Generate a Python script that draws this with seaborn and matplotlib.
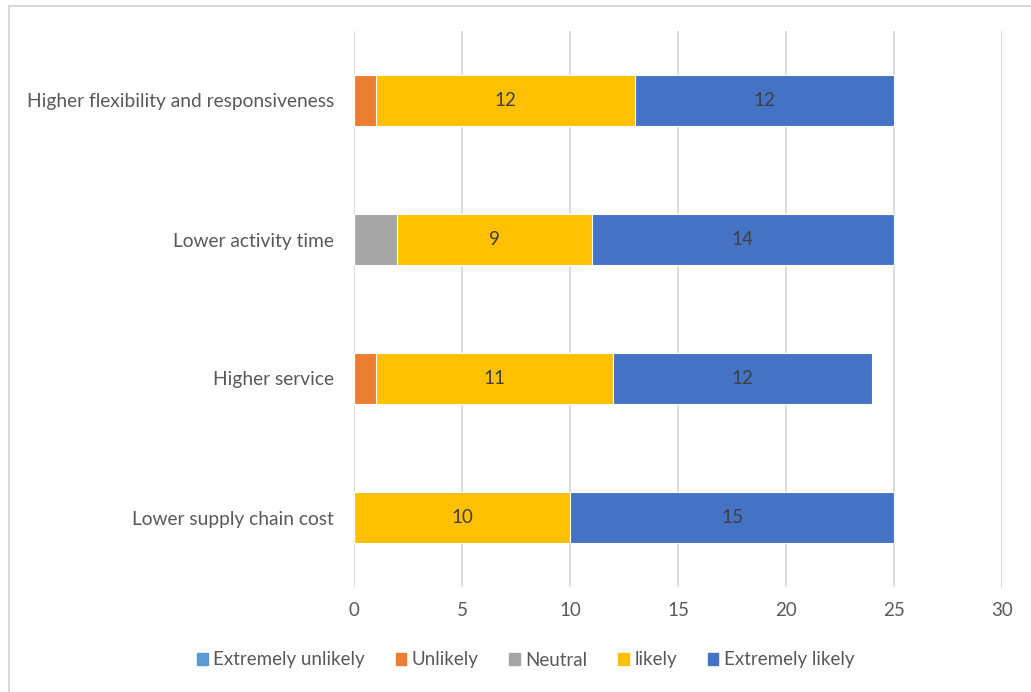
import matplotlib
matplotlib.use("Agg")
import matplotlib.pyplot as plt
import matplotlib.patches as mpatches
import numpy as np
import pandas as pd
import seaborn as sns

categories = [
    "Higher flexibility and responsiveness",
    "Lower activity time",
    "Higher service",
    "Lower supply chain cost",
]
series_names = ["Extremely unlikely", "Unlikely", "Neutral", "likely", "Extremely likely"]
extremely_unlikely = [0, 0, 0, 0]
unlikely = [1, 0, 1, 0]
neutral = [0, 2, 0, 0]
likely = [12, 9, 11, 10]
extremely_likely = [12, 14, 12, 15]
labelled_series = ["likely", "Extremely likely"]
x_ticks = [0, 5, 10, 15, 20, 25, 30]

colors = ["#5B9BD5", "#ED7D31", "#A5A5A5", "#FFC000", "#4472C4"]
text_grey = "#595959"
label_grey = "#404040"

sns.set_theme(style="white")
plt.rcParams["font.family"] = ["Lato", "DejaVu Sans"]

values = pd.DataFrame(
    {
        "Extremely unlikely": extremely_unlikely,
        "Unlikely": unlikely,
        "Neutral": neutral,
        "likely": likely,
        "Extremely likely": extremely_likely,
    },
    index=categories,
)
cumulative = values.cumsum(axis=1)
starts = cumulative - values

fig = plt.figure(figsize=(10.31, 6.92), dpi=100)
ax = fig.add_axes([354 / 1031, 1 - 587 / 692, (1002 - 354) / 1031, (587 - 31) / 692])

# stacked bars: draw cumulative totals from the outermost series inwards
for name, color in reversed(list(zip(series_names, colors))):
    df = pd.DataFrame({"category": categories, "value": cumulative[name].values})
    sns.barplot(
        data=df, x="value", y="category", orient="h", color=color,
        width=0.36, edgecolor="white", linewidth=0.8, ax=ax, zorder=3,
        saturation=1,
    )

for name in labelled_series:
    for i, cat in enumerate(categories):
        v = values.loc[cat, name]
        if v > 0:
            ax.text(starts.loc[cat, name] + v / 2, i, f"{v}", ha="center", va="center",
                    fontsize=13.5, color=label_grey, zorder=5)

ax.set_xlim(0, 30)
ax.set_ylim(3.5, -0.5)
ax.set_xticks(x_ticks)
ax.set_xlabel("")
ax.set_ylabel("")
ax.grid(axis="x", color="#d9d9d9", linewidth=1.3, zorder=0)
ax.grid(axis="y", visible=False)
for s in ax.spines.values():
    s.set_visible(False)
ax.tick_params(axis="x", length=0, pad=11, labelsize=13.5, labelcolor=text_grey)
ax.tick_params(axis="y", length=0, pad=14.5, labelsize=13.8, labelcolor=text_grey)

handles = [mpatches.Patch(color=c, label=n) for n, c in zip(series_names, colors)]
fig.legend(
    handles=handles, loc="center", bbox_to_anchor=(0.51, 1 - 660 / 692), ncol=5,
    frameon=False, fontsize=13.5, labelcolor=text_grey, handlelength=0.55,
    handleheight=0.55, handletextpad=0.3, columnspacing=1.65,
)

# outer chart frame
fig.patches.append(mpatches.Rectangle(
    (8.5 / 1031, 0 - 0.05), 1.2, 1 - 6 / 692 + 0.05, transform=fig.transFigure,
    fill=False, edgecolor="#d9d9d9", linewidth=1.5, zorder=10,
))

fig.savefig("out.png", dpi=100)
